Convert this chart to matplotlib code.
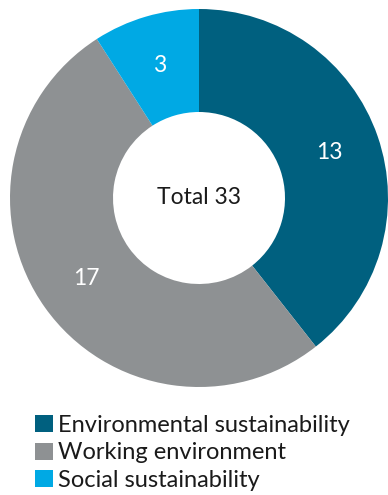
import matplotlib
matplotlib.use("Agg")
import matplotlib.pyplot as plt
from matplotlib.patches import Patch

categories = ["Environmental sustainability", "Working environment", "Social sustainability"]
values = [13, 17, 3]
colors = ["#00607f", "#8e9193", "#00a9e4"]
total = sum(values)

plt.rcParams['font.family'] = ['Lato', 'DejaVu Sans']

fig = plt.figure(figsize=(3.88, 4.95), dpi=100)
W, H = 388, 495
cx, cy, r = 199, 198, 189
ax = fig.add_axes([(cx - r) / W, (H - cy - r) / H, 2 * r / W, 2 * r / H])

wedges, texts = ax.pie(values, colors=colors, startangle=90, counterclock=False,
                       radius=1, labels=[str(v) for v in values], labeldistance=0.73,
                       wedgeprops=dict(width=1 - 86 / 189, linewidth=0),
                       textprops=dict(color="white", fontsize=16.5, ha="center", va="center"))
ax.set_xlim(-1, 1)
ax.set_ylim(-1, 1)
ax.set_aspect("equal")
ax.axis("off")
ax.text(0, 0, f"Total {total}", ha="center", va="center", fontsize=16.5, color="#1a1a1a")

handles = [Patch(facecolor=c, edgecolor="none") for c in colors]
fig.legend(handles, categories, loc="upper left", bbox_to_anchor=(23 / W, 1 - 403 / H),
           frameon=False, fontsize=17, handlelength=0.75, handleheight=0.75,
           handletextpad=0.25, labelspacing=0.28, borderpad=0, labelcolor="#1a1a1a")

fig.savefig("out.png", dpi=100)
